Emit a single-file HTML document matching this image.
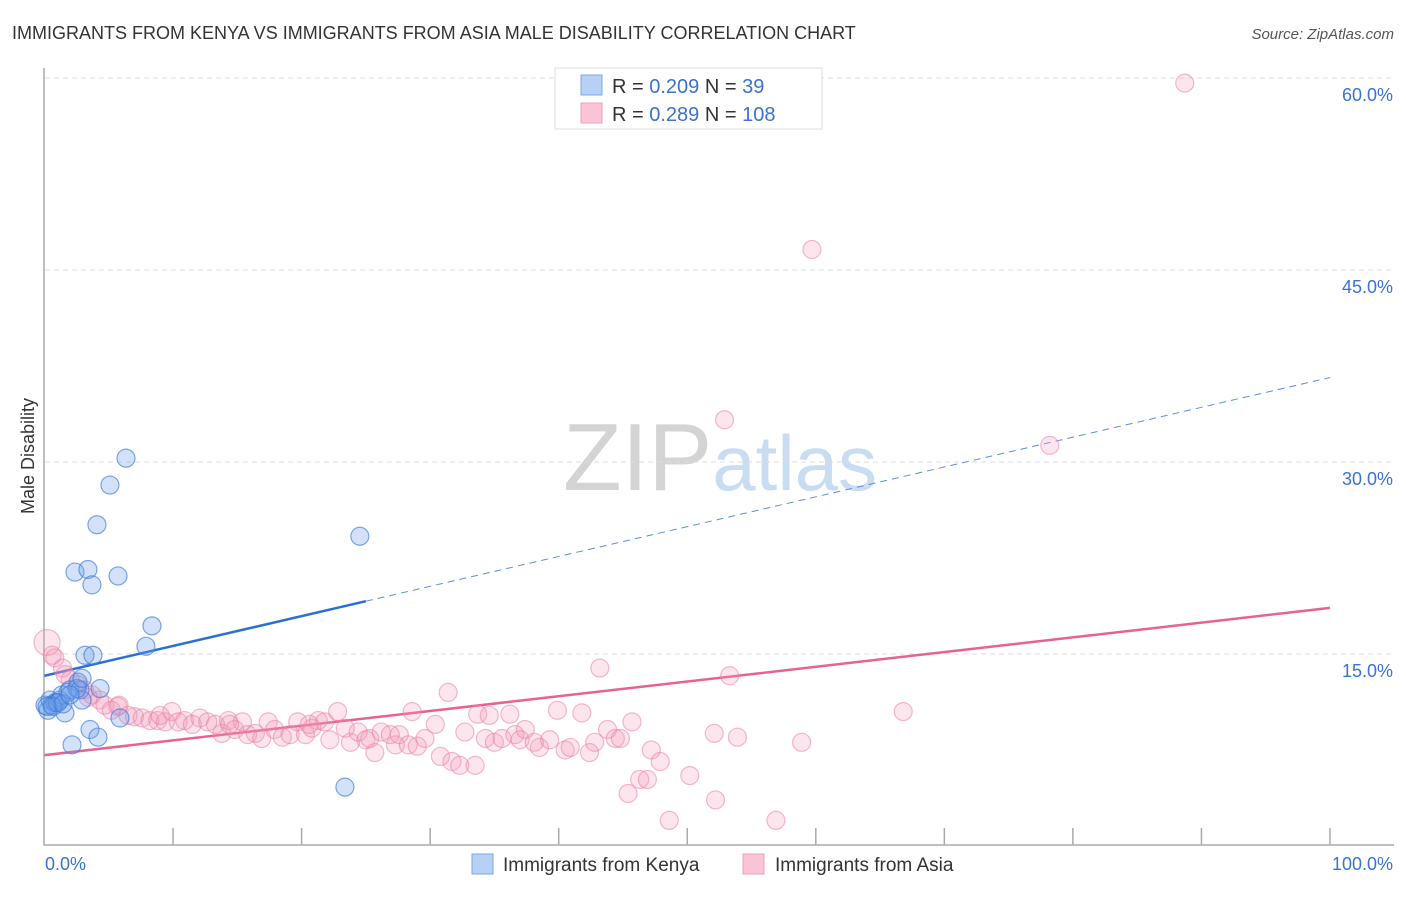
<!DOCTYPE html>
<html><head><meta charset="utf-8"><style>
body{margin:0;background:#fff;font-family:"Liberation Sans",sans-serif}
svg text{font-family:"Liberation Sans",sans-serif}
</style></head><body>
<svg id="chart" width="1406" height="892" viewBox="0 0 1406 892">
<text x="12" y="39" font-size="18" fill="#333">IMMIGRANTS FROM KENYA VS IMMIGRANTS FROM ASIA MALE DISABILITY CORRELATION CHART</text>
<text x="1394" y="39" font-size="15" fill="#555" text-anchor="end" font-style="italic">Source: ZipAtlas.com</text>
<text x="720" y="490" font-size="96" text-anchor="middle" fill="#ddd" font-family="Liberation Serif"><tspan fill="#d4d4d4">ZIP</tspan><tspan fill="#c8dcf2" font-family="Liberation Sans" font-size="78">atlas</tspan></text>
<g id="grid"></g>
<g id="axes"></g>
<g id="trend"></g>
<g id="pts"></g>
<text transform="translate(34,456) rotate(-90)" font-size="18" fill="#333" text-anchor="middle">Male Disability</text>
<g>
<rect x="555" y="68" width="267" height="61" fill="#fff" stroke="#ddd"/>
<rect x="581" y="75" width="21" height="20" fill="#b7d1f5" stroke="#7aa8e8"/>
<rect x="581" y="103" width="21" height="20" fill="#f9c5d5" stroke="#eea0b8"/>
<text x="612" y="93" font-size="20" fill="#333">R = <tspan fill="#3a72d0">0.209</tspan>   N = <tspan fill="#3a72d0">  39</tspan></text>
<text x="612" y="121" font-size="20" fill="#333">R = <tspan fill="#3a72d0">0.289</tspan>   N = <tspan fill="#3a72d0">108</tspan></text>
</g>
<g>
<rect x="472" y="854" width="21" height="20" fill="#b7d1f5" stroke="#7aa8e8"/>
<text x="503" y="871" font-size="19" fill="#333">Immigrants from Kenya</text>
<rect x="743" y="854" width="21" height="20" fill="#f9c5d5" stroke="#eea0b8"/>
<text x="775" y="871" font-size="19" fill="#333">Immigrants from Asia</text>
</g>
</svg>
<script>
const yTicks=[15,30,45,60];
const yTickLabels=["15.0%","30.0%","45.0%","60.0%"];
const xEndLabels=["0.0%","100.0%"];
const kenyaX=[0.04,0.27,0.43,0.58,0.82,0.97,1.2,1.36,1.59,1.83,1.98,2.14,2.37,2.61,2.76,2.92,3.15,3.38,3.54,3.69,3.77,4.08,4.16,4.32,5.09,5.72,5.87,6.34,7.89,8.36,24.53,23.37,1.05,0.66,1.44,2.53,2.92,1.98,0.19];
const kenyaY=[11.0,10.6,11.4,11.0,11.2,11.2,11.4,11.8,10.4,12.0,12.2,7.9,21.4,12.8,12.2,11.4,14.9,21.6,9.1,20.4,14.9,25.1,8.5,12.3,28.2,21.1,10.0,30.3,15.6,17.2,24.2,4.6,11.2,10.9,11.1,12.3,13.1,11.8,10.9];
const asiaX=[0.2,0.8,1.4,2.0,2.6,3.1,3.7,4.3,4.7,5.2,5.8,6.5,7.0,7.6,8.2,8.8,9.4,9.9,10.4,10.9,11.5,12.1,12.7,13.3,13.8,14.3,14.8,15.4,15.8,16.4,16.9,17.4,17.9,18.5,19.1,19.7,20.3,20.8,21.3,21.8,22.2,22.8,23.4,23.8,24.4,25.0,25.3,25.7,26.2,26.9,27.3,27.6,28.3,28.6,29.0,29.6,30.4,30.8,31.4,31.7,32.3,32.7,33.5,33.7,34.3,34.6,35.0,35.6,36.2,36.6,37.0,37.4,38.1,38.5,39.3,39.9,40.5,40.9,41.8,42.4,42.8,43.2,43.8,44.4,44.8,45.4,45.7,46.3,46.9,47.2,47.9,48.6,50.2,52.1,52.2,52.9,53.3,53.9,56.9,58.9,59.7,66.8,78.2,88.7,0.6,1.6,3.4,5.7,9.0,14.4,20.6];
const asiaY=[15.9,14.7,13.9,13.0,12.6,12.2,11.8,11.4,11.0,10.6,11.0,10.2,10.1,10.0,9.8,9.8,9.7,10.5,9.7,9.8,9.5,10.0,9.7,9.5,8.8,9.8,9.1,9.7,8.7,8.8,8.4,9.7,9.1,8.5,8.7,9.7,8.7,9.2,9.8,9.7,8.3,10.5,9.2,8.1,8.9,8.3,8.4,7.3,8.9,8.7,7.9,8.7,7.9,10.5,7.8,8.4,9.5,7.0,12.0,6.6,6.3,8.9,6.3,10.3,8.4,10.2,8.1,8.4,10.3,8.7,8.3,9.1,8.1,7.7,8.3,10.6,7.5,7.7,10.4,7.3,8.1,13.9,9.1,8.4,8.4,4.1,9.7,5.2,5.2,7.5,6.6,2.0,5.5,8.8,3.6,33.3,13.3,8.5,2.0,8.1,46.6,10.5,31.3,59.6,14.9,13.4,11.6,10.9,10.2,9.5,9.5];
const kenyaTrend=[13.3,0.233,25];
const asiaTrend=[7.1,0.115];
const NS="http://www.w3.org/2000/svg";
const X=v=>44.5+v*12.855, Y=v=>846-v*12.8;
function mk(tag,at,parent){const e=document.createElementNS(NS,tag);for(const k in at)e.setAttribute(k,at[k]);document.getElementById(parent).appendChild(e);return e;}
yTicks.forEach((t,i)=>{
 const l=mk('line',{x1:45,x2:1394,y1:Y(t),y2:Y(t),stroke:'#ddd','stroke-dasharray':'5,4'},'grid');
 
 
 const tx=mk('text',{x:1393,y:Y(t)+23,'font-size':18,fill:'#3a72d0','text-anchor':'end'},'axes');
 tx.textContent=yTickLabels[i];
 
 
});
const ax=mk('path',{d:`M44,68V845H1394`,fill:'none',stroke:'#aaa','stroke-width':1.5},'axes');


for(let i=1;i<=10;i++){const t=mk('line',{x1:X(i*10),x2:X(i*10),y1:828,y2:845,stroke:'#aaa','stroke-width':1.5},'axes');
 
 }
[[45,'start',0],[1393,'end',1]].forEach(a=>{const t=mk('text',{x:a[0],y:870,'font-size':18,fill:'#3a72d0','text-anchor':a[1]},'axes');t.textContent=xEndLabels[a[2]];
 
 });
asiaX.forEach((x,i)=>{const c=mk('circle',{cx:X(x),cy:Y(asiaY[i]),r:i==0?13:9,fill:'rgba(243,150,180,0.25)',stroke:'rgba(232,130,165,0.55)','stroke-width':1.2},'pts');
 
 });
kenyaX.forEach((x,i)=>{const c=mk('circle',{cx:X(x),cy:Y(kenyaY[i]),r:9,fill:'rgba(110,160,235,0.3)',stroke:'rgba(60,120,215,0.65)','stroke-width':1.2},'pts');
 
 });
const [kb,km,ke]=kenyaTrend;
let l=mk('line',{x1:X(0),y1:Y(kb),x2:X(ke),y2:Y(kb+km*ke),stroke:'#2a6fd6','stroke-width':2.5},'trend');


l=mk('line',{x1:X(ke),y1:Y(kb+km*ke),x2:X(100),y2:Y(kb+km*100),stroke:'#5a8fe0','stroke-width':1,'stroke-dasharray':'7,5'},'trend');


l=mk('line',{x1:X(0),y1:Y(asiaTrend[0]),x2:X(100),y2:Y(asiaTrend[0]+asiaTrend[1]*100),stroke:'#e8628f','stroke-width':2.5},'trend');


</script>
</body></html>
